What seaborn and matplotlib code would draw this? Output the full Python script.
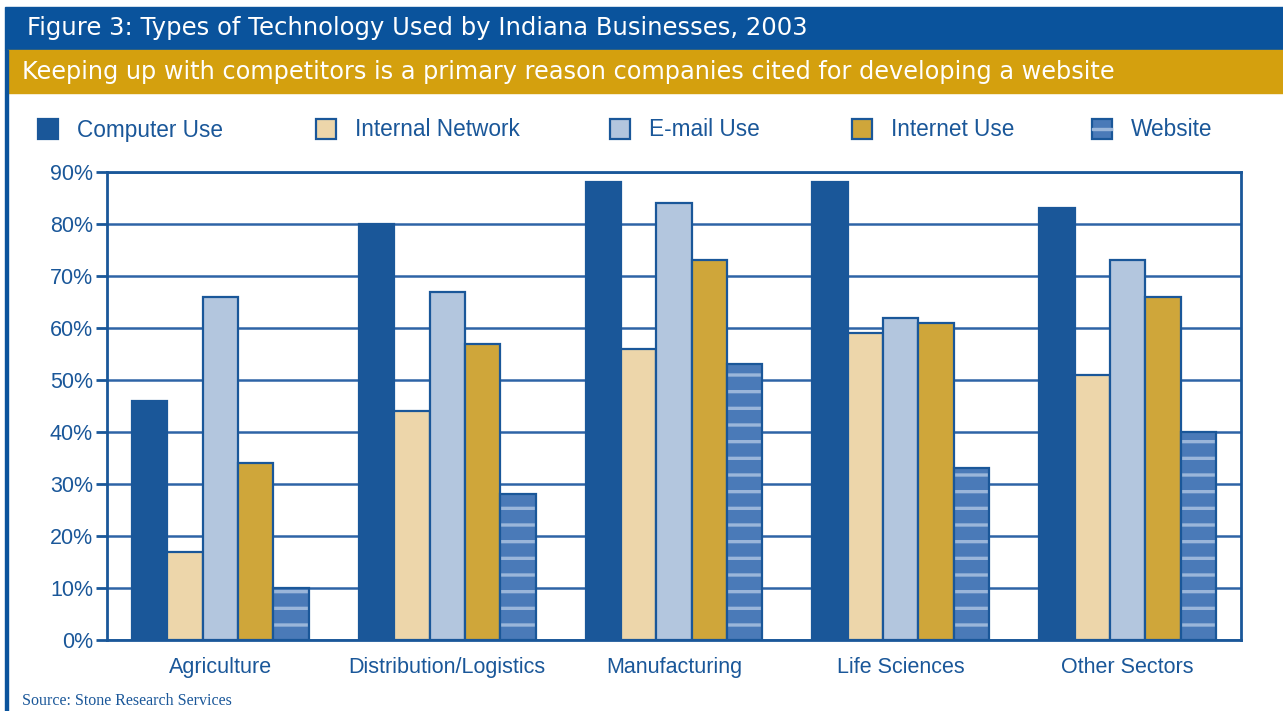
import numpy as np
import pandas as pd
import matplotlib
matplotlib.use("Agg")
import matplotlib.pyplot as plt
from matplotlib.patches import Rectangle
import seaborn as sns

# chart data
sectors = ["Agriculture", "Distribution/Logistics", "Manufacturing", "Life Sciences", "Other Sectors"]
technologies = ["Computer Use", "Internal Network", "E-mail Use", "Internet Use", "Website"]
computer_use = [46, 80, 88, 88, 83]
internal_network = [17, 44, 56, 59, 51]
email_use = [66, 67, 84, 62, 73]
internet_use = [34, 57, 73, 61, 66]
website = [10, 28, 53, 33, 40]
y_ticks = [0, 10, 20, 30, 40, 50, 60, 70, 80, 90]

title = "Figure 3: Types of Technology Used by Indiana Businesses, 2003"
subtitle = "Keeping up with competitors is a primary reason companies cited for developing a website"
source = "Source: Stone Research Services"

BLUE = "#1A5799"
HEADER_BLUE = "#0A539C"
GOLD_BAND = "#D4A00E"
STRIPE = "#9AB6DA"
palette = ["#1A5799", "#EDD6AA", "#B3C6DE", "#CFA63A", "#4A7AB8"]

df = pd.DataFrame({
    "sector": np.repeat(sectors, len(technologies)),
    "tech": technologies * len(sectors),
    "value": np.column_stack([computer_use, internal_network, email_use,
                              internet_use, website]).ravel(),
})

sns.set_theme(style="white")
plt.rcParams["font.family"] = ["Liberation Sans", "DejaVu Sans"]
plt.rcParams["hatch.linewidth"] = 2.4

W, H = 1283, 711
fig = plt.figure(figsize=(W / 100, H / 100), dpi=100)
ax = fig.add_axes([107 / W, 1 - 640 / H, (1241 - 107) / W, (640 - 172) / H])

sns.barplot(data=df, x="sector", y="value", hue="tech", hue_order=technologies,
            palette=palette, width=0.78, gap=0, saturation=1, ax=ax,
            edgecolor=BLUE, linewidth=1.6, legend=False)

# striped website bars: hatch in a light tone, then redraw the dark outline
for bar in ax.containers[-1]:
    bar.set_hatch("-")
    bar.set_edgecolor(STRIPE)
    bar.set_linewidth(0)
    ax.add_patch(Rectangle(bar.get_xy(), bar.get_width(), bar.get_height(),
                           fill=False, edgecolor=BLUE, linewidth=1.6, zorder=3))

ax.set_ylim(0, 90)
ax.set_xlim(-0.5, len(sectors) - 0.5)
ax.set_yticks(y_ticks)
ax.set_yticklabels([f"{t}%" for t in y_ticks], color=BLUE, fontsize=15.5)
ax.set_xticks(np.arange(len(sectors) + 1) - 0.5)
ax.set_xticklabels([])
ax.set_xticks(np.arange(len(sectors)), minor=True)
ax.set_xticklabels(sectors, minor=True, color=BLUE, fontsize=15.5)
ax.tick_params(axis="x", which="major", direction="out", length=7, width=2, color=BLUE)
ax.tick_params(axis="x", which="minor", length=0, pad=12)
ax.tick_params(axis="y", direction="out", length=8, width=2, color=BLUE, pad=2, left=True)
ax.set_xlabel("")
ax.set_ylabel("")
ax.yaxis.grid(True, color="#2E64A6", linewidth=1.8)
ax.set_axisbelow(True)
for side in ax.spines.values():
    side.set_color(BLUE)
    side.set_linewidth(2)

# header bands
fig.patches.append(Rectangle((5 / W, 1 - 50 / H), 1, 43 / H,
                             transform=fig.transFigure, color=HEADER_BLUE, zorder=0))
fig.patches.append(Rectangle((7 / W, 1 - 93 / H), 1, 43 / H,
                             transform=fig.transFigure, color=GOLD_BAND, zorder=0))
fig.patches.append(Rectangle((5 / W, 0), 2.5 / W, 1 - 50 / H,
                             transform=fig.transFigure, color=HEADER_BLUE, zorder=0))
fig.text(27 / W, 1 - 28 / H, title, color="white", fontsize=17.5,
         family="DejaVu Sans", va="center", ha="left")
fig.text(22 / W, 1 - 72 / H, subtitle, color="white", fontsize=17.3,
         family="DejaVu Sans", va="center", ha="left")
fig.text(22 / W, 1 - 701 / H, source, color=BLUE, fontsize=11.5,
         family="Liberation Serif", va="center", ha="left")

# legend along the top, one swatch + label per technology
swatch_x = [38, 316, 610, 852, 1092]
for tech, col, sx in zip(technologies, palette, swatch_x):
    edge = col if tech == "Computer Use" else BLUE
    fig.patches.append(Rectangle((sx / W, 1 - 139 / H), 20 / W, 20 / H,
                                 transform=fig.transFigure, facecolor=col,
                                 edgecolor=edge, linewidth=1.6, zorder=2))
    if tech == "Website":
        fig.patches.append(Rectangle((sx / W, 1 - 130 / H), 20 / W, 2 / H,
                                     transform=fig.transFigure, color=STRIPE, zorder=3))
    fig.text((sx + 39) / W, 1 - 130 / H, tech, color=BLUE, fontsize=16.3,
             va="center", ha="left")

fig.savefig("out.png", dpi=100)
